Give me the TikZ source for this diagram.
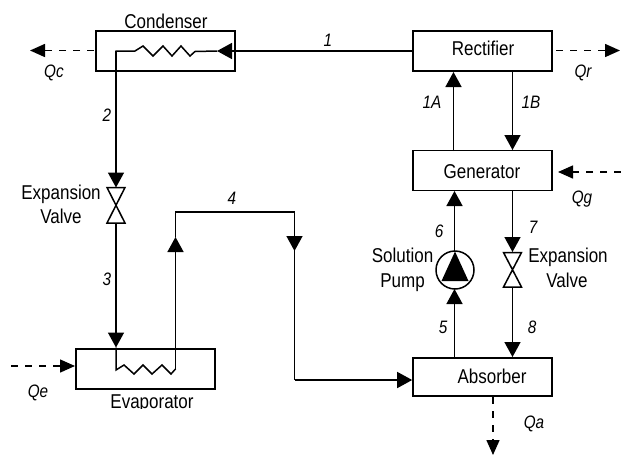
\documentclass[tikz,border=0pt]{standalone}
\usepackage{fontspec}
\setmainfont[FakeStretch=0.85]{Liberation Sans}
\usetikzlibrary{arrows.meta}
\tikzset{
  unit/.style={draw,line width=1.6pt,inner sep=0pt,minimum width=139pt,minimum height=40pt},
  pipe/.style={line width=1.5pt,line join=miter},
  flow/.style={pipe,-{Triangle[length=15pt,width=16pt]}},
  heat/.style={line width=1.5pt,dash pattern=on 7pt off 7pt,-{Triangle[length=15pt,width=13pt]}},
  txt/.style={anchor=base,inner sep=0pt,font=\fontsize{20}{20}\selectfont},
  num/.style={anchor=base,inner sep=0pt,font=\fontsize{18}{18}\selectfont\itshape},
  valveshape/.style={draw,fill=white,line width=1.5pt,line join=miter},
}
\newcommand{\valvedraw}[3]{% x, top y, bottom y
  \path[valveshape] (#1-9,#2) -- (#1+9,#2) -- (#1-9,#3) -- (#1+9,#3) -- cycle;
}
\begin{document}
\begin{tikzpicture}[x=1pt,y=-1pt]
\useasboundingbox (0,0) rectangle (621,456);
% units
\node[unit] (cond) at (165.5,51) {};
\node[unit] (rect) at (482.5,51) {};
\node[unit] (gen)  at (482.5,170.5) {};
\node[unit,minimum height=38pt] (abs) at (482.5,377) {};
\node[unit] (evap) at (145.5,369) {};
% named points
\coordinate (ctip) at (217,51);
\coordinate (coilA) at (195,51.5);
\coordinate (coilB) at (135,51);
\coordinate (cbend) at (116,51);
\coordinate (v1top) at (116,187.5);
\coordinate (v1bot) at (116,223);
\coordinate (etip) at (116,347.5);
\coordinate (eA) at (116,370);
\coordinate (eB) at (175.5,369);
\coordinate (utip) at (175.5,237);
\coordinate (ul) at (175.5,212);
\coordinate (ur) at (294.5,212);
\coordinate (dtip) at (294.5,251);
\coordinate (dbend) at (294.5,380);
\coordinate (atip) at (abs.west |- dbend);
\coordinate (aup) at (454.5,358);
\coordinate (ptip) at (454.5,289);
\coordinate (ptop) at (454.5,251);
\coordinate (gtip) at (454.5,191);
\coordinate (gout) at (512.5,190);
\coordinate (v2top) at (512.5,252);
\coordinate (v2bot) at (512.5,287);
\coordinate (abtip) at (512.5,357);
\coordinate (ga) at (453.5,151);
\coordinate (gb) at (453.5,72);
\coordinate (ra) at (512.5,71);
\coordinate (rb) at (512.5,150);
% pipes
\draw[flow] (rect.west) -- (ctip);
\draw[pipe] (ctip) -- (coilA) -- (190,56) -- (181,46) -- (172,56) -- (163,46) -- (153,56) -- (143,46) -- (coilB) -- (cbend) -- (116,172);
\draw[flow] (cbend) -- (v1top);
\draw[flow] (v1bot) -- (etip);
\draw[pipe] (etip) -- (eA) -- (124,365) -- (134,374) -- (143,365) -- (152,374) -- (162,365) -- (171,374) -- (eB);
\draw[flow] (eB) -- (utip);
\draw[pipe] (utip) -- (ul) -- (ur) -- (dtip);
\draw[flow] (ur) -- (dtip);
\draw[pipe] (dtip) -- (dbend);
\draw[flow] (dbend) -- (atip);
\draw[flow] (ga) -- (gb);
\draw[flow] (ra) -- (rb);
\draw[flow] (ptop) -- (gtip);
\draw[flow] (gout) -- (v2top);
\draw[flow] (v2bot) -- (abtip);
\draw[flow] (aup) -- (ptip);
% valves
\valvedraw{116}{187.5}{223}
\valvedraw{512.5}{252.5}{287}
% pump
\node[draw,circle,line width=1.5pt,fill=white,minimum size=38pt,inner sep=0pt] (pump) at (455,270) {};
\fill (455,251.5) -- (468.5,281) -- (441.5,281) -- cycle;
% heat flows
\coordinate (qc) at (30,50.5);
\coordinate (qcs) at (94,50.5);
\coordinate (qrs) at (556,50.5);
\coordinate (qr) at (620,50.5);
\coordinate (qgs) at (621,172);
\coordinate (qg) at (558,172);
\coordinate (qes) at (11,366);
\coordinate (qe) at (75,366);
\coordinate (qas) at (493,397);
\coordinate (qa) at (493,455);
\draw[heat] (qcs) -- (qc);
\draw[heat] (qrs) -- (qr);
\draw[heat] (qgs) -- (qg);
\draw[heat] (qes) -- (qe);
\draw[heat] (qas) -- (qa);
% texts
\node[txt] (tcond) at (166,28) {Condenser};
\node[txt] (trect) at (483,55) {Rectifier};
\node[txt] (tgen) at (482,178) {Generator};
\node[txt] (tabs) at (492,383) {Absorber};
\begin{scope}
\clip (100,385) rectangle (210,408.5);
\node[txt] (tevap) at (152,408) {Evaporator};
\end{scope}
\node[txt] (texp1) at (61,199) {Expansion};
\node[txt] (tval1) at (61,223) {Valve};
\node[txt] (tsol) at (402.5,262) {Solution};
\node[txt] (tpum) at (402.5,287) {Pump};
\node[txt] (texp2) at (568,262) {Expansion};
\node[txt] (tval2) at (567,287) {Valve};
\node[num] (n1) at (328,46) {1};
\node[num] (n2) at (107,121) {2};
\node[num] (n3) at (107,285) {3};
\node[num] (n4) at (232,204) {4};
\node[num] (n1a) at (432,108) {1A};
\node[num] (n1b) at (531,108) {1B};
\node[num] (n5) at (443,333) {5};
\node[num] (n6) at (439,237) {6};
\node[num] (n7) at (533,233) {7};
\node[num] (n8) at (532,333) {8};
\node[num] (lqc) at (54,77) {Qc};
\node[num] (lqr) at (583,77) {Qr};
\node[num] (lqg) at (582,203) {Qg};
\node[num] (lqe) at (38,397) {Qe};
\node[num] (lqa) at (534,428) {Qa};
\end{tikzpicture}
\end{document}
